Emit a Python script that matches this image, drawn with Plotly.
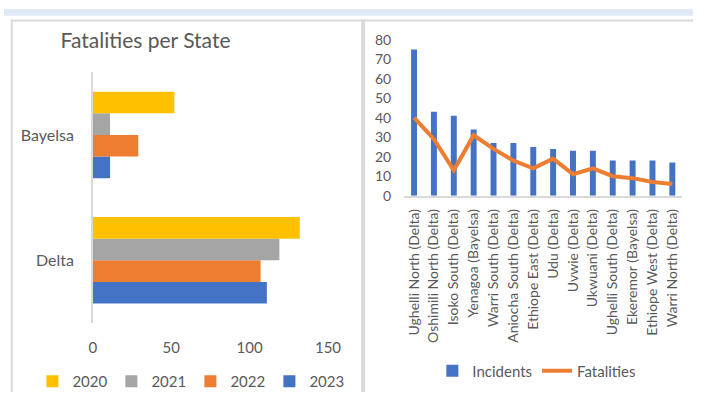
import plotly.graph_objects as go

# ---- data: left chart (fatalities per state, by year) ----
states = ["Delta", "Bayelsa"]
years = ["2020", "2021", "2022", "2023"]
fat_2020 = [132, 52]
fat_2021 = [119, 11]
fat_2022 = [107, 29]
fat_2023 = [111, 11]
x_ticks_left = [0, 50, 100, 150]

# ---- data: right chart (LGAs) ----
lgas = ["Ughelli North (Delta)", "Oshimili North (Delta)", "Isoko South (Delta)",
        "Yenagoa (Bayelsa)", "Warri South (Delta)", "Aniocha South (Delta)",
        "Ethiope East (Delta)", "Udu (Delta)", "Uvwie (Delta)", "Ukwuani (Delta)",
        "Ughelli South (Delta)", "Ekeremor (Bayelsa)", "Ethiope West (Delta)",
        "Warri North (Delta)"]
incidents = [75, 43, 41, 34, 27, 27, 25, 24, 23, 23, 18, 18, 18, 17]
fatalities = [40, 29, 13, 31, 24, 18, 14, 19, 11, 14, 10, 9, 7, 6]

W, H = 706, 400
FONT = "Lato"
TXT = "#595959"
GRID = "#D9D9D9"

def px(x):
    return x / W

def py(y):
    return 1 - y / H

fig = go.Figure()

series = [("2023", fat_2023, "#4472C4"), ("2022", fat_2022, "#ED7D31"),
          ("2021", fat_2021, "#A5A5A5"), ("2020", fat_2020, "#FFC000")]
for name, vals, col in series:
    fig.add_trace(go.Bar(y=states, x=vals, name=name, orientation="h",
                         marker=dict(color=col, line=dict(width=0)),
                         xaxis="x", yaxis="y", legend="legend"))

fig.add_trace(go.Bar(x=lgas, y=incidents, name="Incidents", width=0.3,
                     marker=dict(color="#4472C4", line=dict(width=0)),
                     xaxis="x2", yaxis="y2", legend="legend2"))
fig.add_trace(go.Scatter(x=lgas, y=fatalities, name="Fatalities", mode="lines",
                         line=dict(color="#ED7D31", width=4),
                         xaxis="x2", yaxis="y2", legend="legend2"))

shapes = [
    dict(type="rect", xref="paper", yref="paper", x0=0, x1=1, y0=py(7), y1=1,
         fillcolor="#DEE9F5", line=dict(width=0), layer="below"),
    dict(type="rect", xref="paper", yref="paper", x0=px(7), x1=1, y0=py(13), y1=py(11),
         fillcolor=GRID, line=dict(width=0), layer="below"),
    dict(type="rect", xref="paper", yref="paper", x0=px(7), x1=px(9), y0=0, y1=py(11),
         fillcolor=GRID, line=dict(width=0), layer="below"),
    dict(type="rect", xref="paper", yref="paper", x0=px(366), x1=px(370), y0=0, y1=py(11),
         fillcolor=GRID, line=dict(width=0), layer="below"),
]

fig.update_layout(
    width=W, height=H,
    margin=dict(l=0, r=0, t=0, b=0),
    paper_bgcolor="white", plot_bgcolor="white",
    font=dict(family=FONT, color=TXT),
    barmode="group", bargap=0.31, bargroupgap=0,
    shapes=shapes,
    title=dict(text="Fatalities per State", x=px(58), xanchor="left",
               y=py(33), yanchor="middle", xref="paper", yref="paper",
               font=dict(family=FONT, size=21, color=TXT)),
    xaxis=dict(domain=[px(91), px(332)], range=[0, 150], tickvals=x_ticks_left,
               showgrid=False, zeroline=False, showline=False, ticks="",
               tickfont=dict(size=15, color=TXT), ticklabelstandoff=14,
               anchor="y", fixedrange=True),
    yaxis=dict(domain=[py(328), py(66)], type="category", range=[-0.5, 1.5],
               showgrid=False, zeroline=False, showline=True, linecolor=GRID,
               linewidth=1.5, ticks="", tickfont=dict(size=16, color=TXT),
               ticklabelstandoff=14, anchor="x"),
    xaxis2=dict(domain=[px(410), px(695)], type="category", range=[-0.5, 13.5],
                tickangle=-90, showgrid=False, zeroline=False, showline=True,
                linecolor=GRID, linewidth=1.5, ticks="",
                tickfont=dict(size=14, color=TXT), ticklabelstandoff=6, anchor="y2"),
    yaxis2=dict(domain=[py(195), py(32)], range=[0, 80], dtick=10,
                showgrid=False, zeroline=False, showline=False, ticks="",
                tickfont=dict(size=14, color=TXT), ticklabelstandoff=12, anchor="x2"),
    legend=dict(orientation="h", x=px(191), xanchor="center", y=py(389),
                yanchor="middle", traceorder="reversed", entrywidth=34,
                entrywidthmode="pixels",
                font=dict(size=15, color=TXT), bgcolor="rgba(0,0,0,0)"),
    legend2=dict(orientation="h", x=px(546), xanchor="center", y=py(378),
                 yanchor="middle", traceorder="normal",
                 font=dict(size=15, color=TXT), bgcolor="rgba(0,0,0,0)"),
    showlegend=True,
)

fig.write_html("out.html", config={"displayModeBar": False},
               post_script="document.body.style.margin='0';document.body.style.overflow='hidden';")
